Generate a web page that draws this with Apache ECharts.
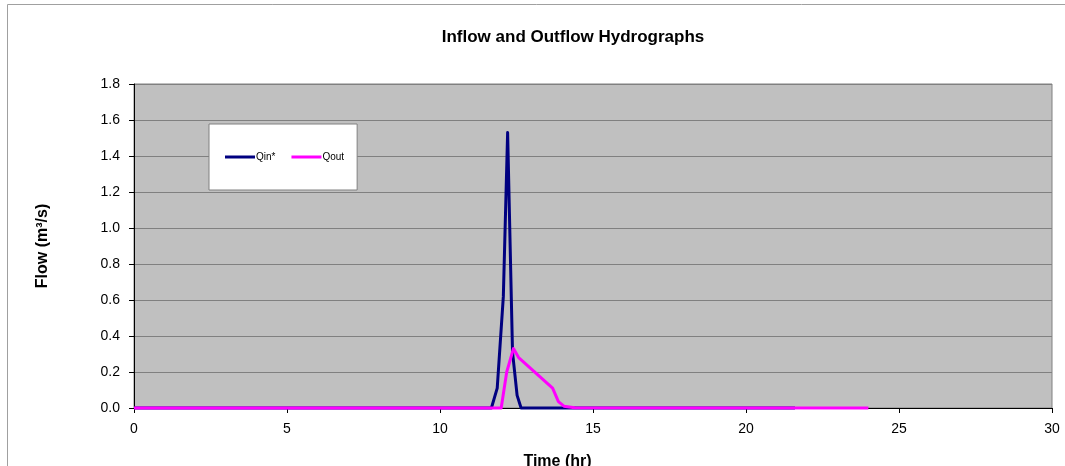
<!DOCTYPE html>
<html>
<head>
<meta charset="utf-8">
<script src="https://cdn.jsdelivr.net/npm/echarts@6/dist/echarts.min.js"></script>
<style>
html,body{margin:0;padding:0;background:#fff;}
#c{width:1065px;height:466px;}
</style>
</head>
<body>
<div id="c"></div>
<script>
// Inflow hydrograph vertices (time in hr, flow in m3/s)
var qinTime = [0, 11.68, 11.87, 12.07, 12.21, 12.37, 12.52, 12.65, 21.6];
var qinFlow = [0, 0, 0.11, 0.62, 1.53, 0.31, 0.07, 0, 0];
// Outflow hydrograph vertices
var qoutTime = [0, 12.0, 12.18, 12.40, 12.57, 13.68, 13.87, 14.05, 14.4, 24.0];
var qoutFlow = [0, 0, 0.20, 0.33, 0.28, 0.11, 0.035, 0.01, 0.002, 0];
// Axis ticks
var xTicks = [0, 5, 10, 15, 20, 25, 30];
var yTicks = [0.0, 0.2, 0.4, 0.6, 0.8, 1.0, 1.2, 1.4, 1.6, 1.8];

function pairs(t, v) { return t.map(function (x, i) { return [x, v[i]]; }); }

var FONT = '"Liberation Sans", Arial, sans-serif';
var chart = echarts.init(document.getElementById('c'), null, {renderer: 'canvas'});
chart.setOption({
  animation: false,
  backgroundColor: '#ffffff',
  graphic: [{
    type: 'rect', left: 7, top: 4, z: -10,
    shape: {width: 1100, height: 500},
    style: {fill: '#ffffff', stroke: '#a0a0a0', lineWidth: 1}
  }],
  title: {
    text: 'Inflow and Outflow Hydrographs',
    left: 568, top: 24, textAlign: 'center',
    textStyle: {fontFamily: FONT, fontSize: 17, fontWeight: 'bold', color: '#000'}
  },
  legend: {
    left: 209, top: 124,
    orient: 'horizontal',
    padding: [28, 13, 28, 16],
    backgroundColor: '#ffffff',
    borderColor: '#808080', borderWidth: 1,
    itemWidth: 30, itemHeight: 3, itemGap: 16,
    icon: 'rect',
    textStyle: {fontFamily: FONT, fontSize: 10, color: '#000', padding: [0, 0, 0, -4]},
    data: ['Qin*', 'Qout']
  },
  grid: {
    left: 134, right: 13, top: 84, bottom: 58,
    outerBoundsMode: 'none', containLabel: false,
    show: true, backgroundColor: '#c0c0c0', borderColor: '#808080', borderWidth: 1
  },
  xAxis: {
    type: 'value', min: xTicks[0], max: xTicks[xTicks.length - 1], interval: 5,
    name: 'Time (hr)', nameLocation: 'middle', nameGap: 46,
    nameTextStyle: {fontFamily: FONT, fontSize: 16, fontWeight: 'bold', color: '#000', padding: [0, 71, 0, 0]},
    axisLine: {show: true, onZero: false, lineStyle: {color: '#000', width: 1}},
    axisTick: {show: true, inside: false, length: 5, lineStyle: {color: '#000'}},
    axisLabel: {fontFamily: FONT, fontSize: 14, color: '#000', margin: 14},
    splitLine: {show: false}
  },
  yAxis: {
    type: 'value', min: yTicks[0], max: yTicks[yTicks.length - 1], interval: 0.2,
    name: 'Flow (m³/s)', nameLocation: 'middle', nameGap: 83, nameRotate: 90,
    nameTextStyle: {fontFamily: FONT, fontSize: 16, fontWeight: 'bold', color: '#000'},
    axisLine: {show: true, lineStyle: {color: '#000', width: 1}},
    axisTick: {show: true, inside: false, length: 5, lineStyle: {color: '#000'}},
    axisLabel: {fontFamily: FONT, fontSize: 14, color: '#000', margin: 14,
      formatter: function (v) { return v.toFixed(1); }},
    splitLine: {show: true, lineStyle: {color: '#808080', width: 1}}
  },
  series: [{
    name: 'Qin*', type: 'line', data: pairs(qinTime, qinFlow),
    showSymbol: false, symbol: 'none', clip: false, z: 3,
    lineStyle: {color: '#000080', width: 3, join: 'round'},
    itemStyle: {color: '#000080'}
  }, {
    name: 'Qout', type: 'line', data: pairs(qoutTime, qoutFlow),
    showSymbol: false, symbol: 'none', clip: false, z: 4,
    lineStyle: {color: '#ff00ff', width: 3, join: 'round'},
    itemStyle: {color: '#ff00ff'}
  }]
});
</script>
</body>
</html>
